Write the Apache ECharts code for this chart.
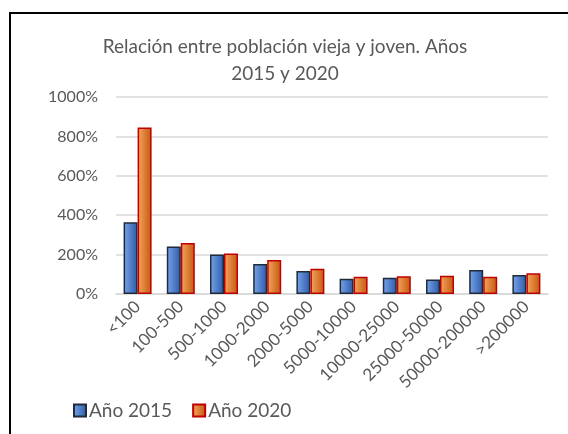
<!DOCTYPE html>
<html>
<head>
<meta charset="utf-8">
<script src="https://cdn.jsdelivr.net/npm/echarts@6/dist/echarts.min.js"></script>
<style>
  html, body { margin: 0; padding: 0; background: #fff; overflow: hidden; }
  #frame {
    position: absolute; left: 9px; top: 12px; width: 600px; height: 500px;
    border-left: 2px solid #000; border-top: 2px solid #000; box-sizing: border-box;
  }
  #chart { position: absolute; left: 0; top: 0; width: 568px; height: 434px; }
</style>
</head>
<body>
<div id="frame"></div>
<div id="chart"></div>
<script>
const categories = ['<100', '100-500', '500-1000', '1000-2000', '2000-5000', '5000-10000', '10000-25000', '25000-50000', '50000-200000', '>200000']
const year2015 = [364, 241, 200, 152, 117, 78, 83, 73, 122, 97]
const year2020 = [845, 259, 206, 172, 128, 88, 90, 93, 88, 105]
const yTicks = [0, 200, 400, 600, 800, 1000]

const font = 'Lato, "Noto Sans", sans-serif'
const chart = echarts.init(document.getElementById('chart'))

function grad(c1, c2) {
  return new echarts.graphic.LinearGradient(0, 0, 1, 0, [
    { offset: 0, color: c1 },
    { offset: 1, color: c2 }
  ])
}

chart.setOption({
  backgroundColor: 'transparent',
  animation: false,
  title: {
    text: 'Relación entre población vieja y joven. Años\n2015 y 2020',
    left: 280,
    textAlign: 'center',
    top: 28,
    textStyle: {
      fontFamily: font,
      fontSize: 19,
      fontWeight: 'normal',
      color: '#595959',
      lineHeight: 27
    }
  },
  legend: {
    left: 68,
    top: 396,
    itemWidth: 12,
    itemHeight: 12,
    itemGap: 20,
    icon: 'rect',
    textStyle: { fontFamily: font, fontSize: 19, color: '#595959', padding: [0, 0, 0, -2] }
  },
  grid: { left: 116, right: 20, top: 97, bottom: 140 },
  xAxis: {
    type: 'category',
    data: categories,
    axisLine: { lineStyle: { color: '#d9d9d9', width: 1.5 } },
    axisTick: { show: false },
    axisLabel: {
      rotate: 45,
      interval: 0,
      margin: 10,
      fontFamily: font,
      fontSize: 17,
      color: '#595959'
    }
  },
  yAxis: {
    type: 'value',
    min: yTicks[0],
    max: yTicks[yTicks.length - 1],
    interval: 200,
    axisLine: { show: false },
    axisTick: { show: false },
    splitLine: { lineStyle: { color: '#d9d9d9', width: 1.5 } },
    axisLabel: {
      formatter: v => v + '%',
      margin: 18,
      fontFamily: font,
      fontSize: 16,
      color: '#595959'
    }
  },
  series: [
    {
      name: 'Año 2015',
      type: 'bar',
      data: year2015,
      barWidth: 14,
      barGap: '0%',
      itemStyle: {
        color: grad('#79a5ea', '#2c59a8'),
        borderColor: '#1f2b3a',
        borderWidth: 1.5
      }
    },
    {
      name: 'Año 2020',
      type: 'bar',
      data: year2020,
      barWidth: 14,
      barGap: '0%',
      itemStyle: {
        color: grad('#f6a55e', '#c4580f'),
        borderColor: '#c00000',
        borderWidth: 1.5
      }
    }
  ]
})
</script>
</body>
</html>
